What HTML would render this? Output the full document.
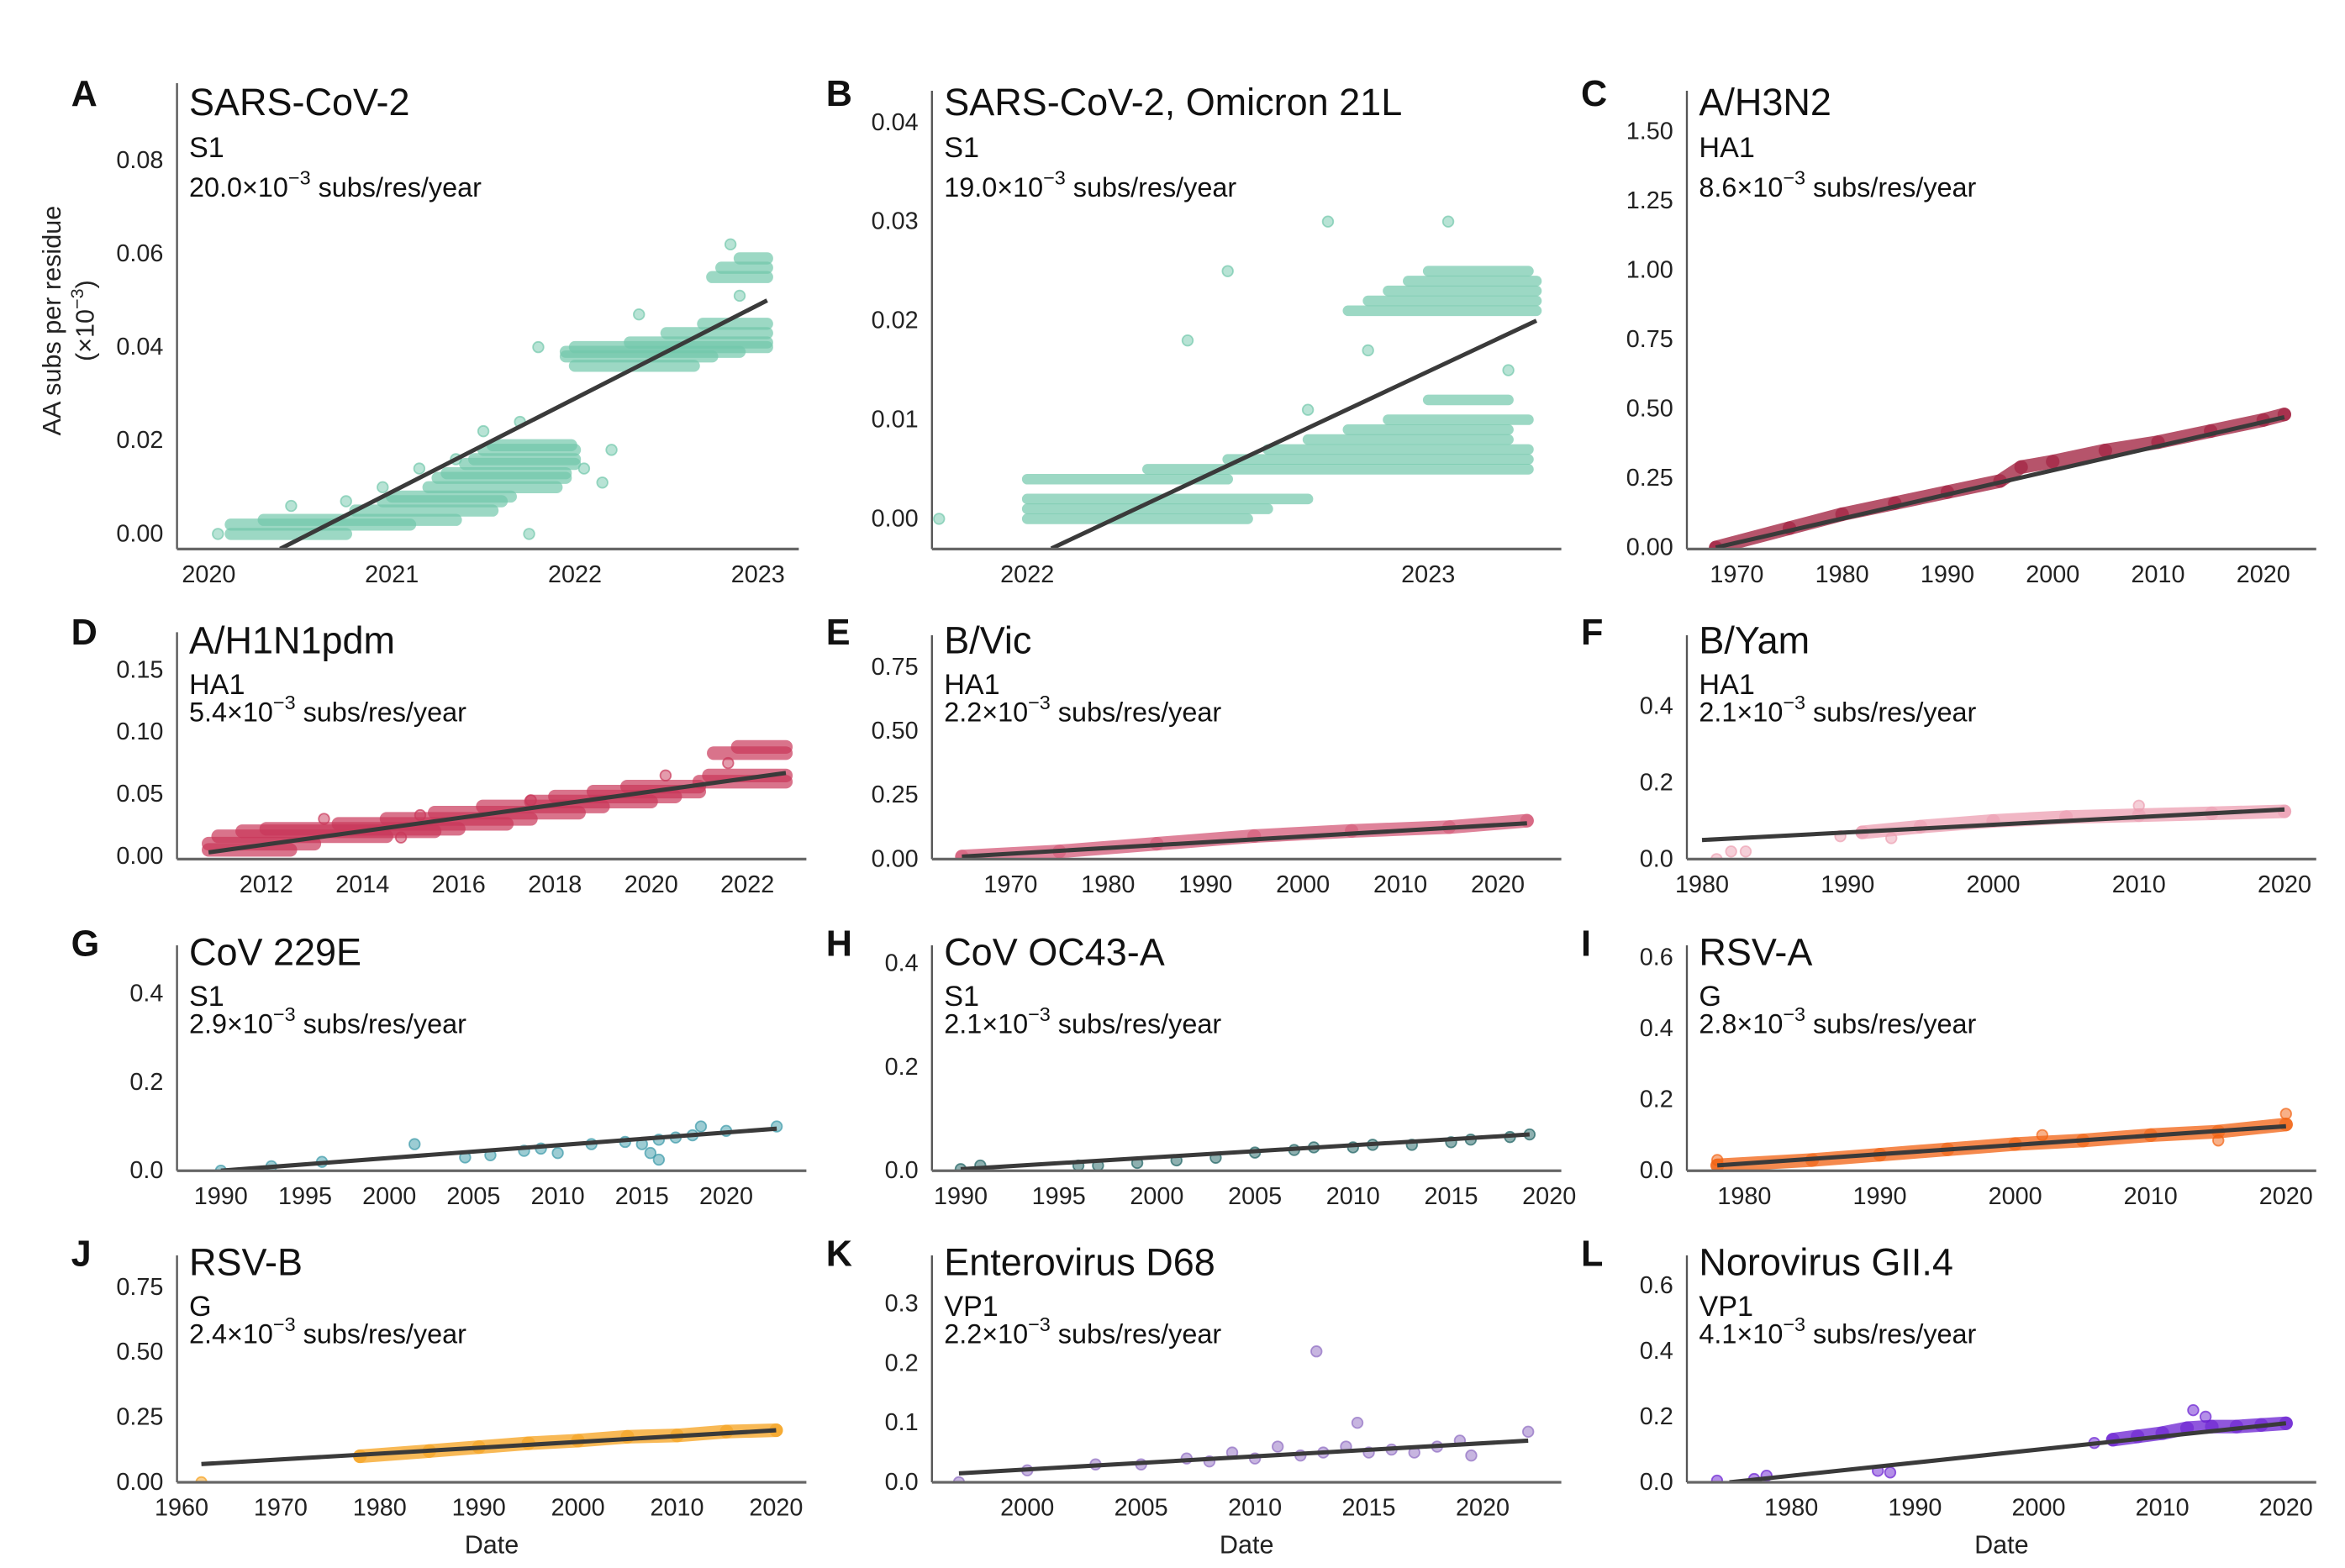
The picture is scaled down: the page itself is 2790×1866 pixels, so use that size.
<!DOCTYPE html>
<html><head><meta charset="utf-8"><title>Substitution rates</title>
<style>
html,body{margin:0;padding:0;background:#fff;}
svg{display:block;font-family:"Liberation Sans",Arial,sans-serif;}
</style></head>
<body>
<svg id="fig" width="2790" height="1866" viewBox="0 0 1550 1036.67" xmlns="http://www.w3.org/2000/svg">
<text transform="translate(40,212) rotate(-90)" text-anchor="middle" font-size="17" fill="#222">AA subs per residue</text>
<text transform="translate(62,212) rotate(-90)" text-anchor="middle" font-size="17" fill="#222">(×10<tspan dy="-7" font-size="12">−3</tspan><tspan dy="7">)</tspan></text>
</svg>
<script>
// ---- data: strips [value, startYear, endYear], points [year, value], fits [x0,y0,x1,y1]
const aStrips=[[0.000,2020.12,2020.75],[0.002,2020.12,2021.1],[0.003,2020.3,2021.35],[0.005,2020.8,2021.55],[0.007,2020.95,2021.6],[0.008,2021.0,2021.65],[0.010,2021.2,2021.9],[0.012,2021.25,2021.95],[0.013,2021.3,2021.95],[0.015,2021.4,2022.0],[0.016,2021.45,2022.0],[0.018,2021.5,2022.0],[0.019,2021.55,2021.98],[0.036,2022.0,2022.65],[0.038,2021.95,2022.75],[0.039,2021.95,2022.9],[0.040,2022.0,2023.05],[0.041,2022.3,2023.05],[0.043,2022.5,2023.05],[0.045,2022.7,2023.05],[0.055,2022.75,2023.05],[0.057,2022.8,2023.05],[0.059,2022.9,2023.05]];
const aPts=[[2020.05,0.0],[2020.45,0.006],[2020.75,0.007],[2020.95,0.01],[2021.15,0.014],[2021.35,0.016],[2021.5,0.022],[2021.7,0.024],[2022.05,0.014],[2022.15,0.011],[2022.2,0.018],[2021.8,0.04],[2022.35,0.047],[2022.85,0.062],[2022.9,0.051],[2021.75,0.0]];
const aFit=[2020.39,-0.0032,2023.05,0.050];
const bStrips=[[0.000,2022.0,2022.55],[0.001,2022.0,2022.6],[0.002,2022.0,2022.7],[0.004,2022.0,2022.5],[0.005,2022.3,2023.25],[0.006,2022.5,2023.25],[0.007,2022.6,2023.25],[0.008,2022.7,2023.2],[0.009,2022.8,2023.2],[0.010,2022.9,2023.25],[0.012,2023.0,2023.2],[0.021,2022.8,2023.27],[0.022,2022.85,2023.27],[0.023,2022.9,2023.27],[0.024,2022.95,2023.27],[0.025,2023.0,2023.25]];
const bPts=[[2021.78,0.0],[2022.5,0.025],[2022.75,0.03],[2022.85,0.017],[2023.05,0.03],[2022.4,0.018],[2023.2,0.015],[2022.7,0.011]];
const bFit=[2022.06,-0.003,2023.27,0.020];
const cTrail=[[1968,0.0],[1975,0.07],[1980,0.12],[1985,0.16],[1990,0.2],[1995,0.24],[1997,0.29],[2000,0.31],[2005,0.35],[2010,0.38],[2015,0.42],[2020,0.46],[2022,0.48]];
const cFit=[1968,0.0,2022,0.47];
const dStrips=[[0.005,2010.8,2012.5],[0.010,2010.8,2013.0],[0.016,2011.0,2014.5],[0.020,2011.5,2015.5],[0.022,2012.0,2016.0],[0.026,2013.5,2017.0],[0.030,2014.5,2017.5],[0.035,2015.5,2018.5],[0.040,2016.5,2019.0],[0.044,2017.5,2020.0],[0.048,2018.0,2020.5],[0.052,2018.8,2021.0],[0.056,2019.5,2021.0],[0.060,2021.0,2022.8],[0.065,2021.2,2022.8],[0.083,2021.3,2022.8],[0.088,2021.8,2022.8]];
const dPts=[[2015.2,0.033],[2013.2,0.03],[2017.5,0.045],[2020.3,0.065],[2021.6,0.075],[2014.8,0.015]];
const dFit=[2010.8,0.003,2022.8,0.067];
const eTrail=[[1965,0.01],[1975,0.03],[1985,0.06],[1995,0.09],[2005,0.11],[2015,0.125],[2023,0.15]];
const eFit=[1965,0.01,2023,0.14];
const fTrail=[[1991,0.07],[1995,0.085],[2000,0.1],[2005,0.11],[2010,0.115],[2015,0.12],[2020,0.125]];
const fPts=[[1981,0.0],[1982,0.02],[1983,0.02],[1989.5,0.06],[1993,0.055],[2010,0.14]];
const fFit=[1980,0.05,2020,0.13];
const gPts=[[1990,0.0],[1993,0.01],[1996,0.02],[2001.5,0.06],[2004.5,0.03],[2006,0.035],[2008,0.045],[2009,0.05],[2010,0.04],[2012,0.06],[2014,0.065],[2015,0.06],[2016,0.07],[2017,0.075],[2018,0.08],[2015.5,0.04],[2016,0.025],[2020,0.09],[2023,0.1],[2018.5,0.1]];
const gFit=[1990,0.0,2023,0.095];
const hPts=[[1990,0.003],[1991,0.01],[1996,0.01],[1997,0.01],[1999,0.015],[2001,0.02],[2003,0.025],[2005,0.035],[2007,0.04],[2008,0.045],[2010,0.045],[2011,0.05],[2013,0.05],[2015,0.055],[2016,0.06],[2018,0.065],[2019,0.07]];
const hFit=[1990,0.003,2019,0.07];
const iTrail=[[1978,0.015],[1985,0.03],[1990,0.045],[1995,0.06],[2000,0.075],[2005,0.085],[2010,0.1],[2015,0.11],[2020,0.13]];
const iPts=[[2020,0.16],[2002,0.1],[1978,0.03],[2015,0.085]];
const iFit=[1978,0.015,2020,0.125];
const jTrail=[[1978,0.1],[1985,0.12],[1990,0.135],[1995,0.15],[2000,0.16],[2005,0.175],[2010,0.18],[2015,0.195],[2020,0.2]];
const jPts=[[1962,0.0]];
const jFit=[1962,0.07,2020,0.2];
const kPts=[[1997,0.0],[2000,0.02],[2003,0.03],[2005,0.03],[2007,0.04],[2008,0.035],[2009,0.05],[2010,0.04],[2011,0.06],[2012,0.045],[2012.7,0.22],[2013,0.05],[2014,0.06],[2014.5,0.1],[2015,0.05],[2016,0.055],[2017,0.05],[2018,0.06],[2019,0.07],[2022,0.085],[2019.5,0.045]];
const kFit=[1997,0.015,2022,0.07];
const lTrail=[[2006,0.13],[2008,0.14],[2010,0.15],[2012,0.165],[2014,0.17],[2016,0.17],[2018,0.175],[2020,0.18]];
const lPts=[[1974,0.005],[1977,0.01],[1978,0.02],[1987,0.035],[1988,0.03],[2004.5,0.12],[2012.5,0.22],[2013.5,0.2]];
const lFit=[1975,0.0,2020,0.18];
const yTicksA=["0.00","0.02","0.04","0.06","0.08"], xTicksA=[2020,2021,2022,2023];
const yTicksB=["0.00","0.01","0.02","0.03","0.04"], xTicksB=[2022,2023];
const yTicksC=["0.00","0.25","0.50","0.75","1.00","1.25","1.50"], xTicksC=[1970,1980,1990,2000,2010,2020];
const yTicksD=["0.00","0.05","0.10","0.15"], xTicksD=[2012,2014,2016,2018,2020,2022];
const yTicksE=["0.00","0.25","0.50","0.75"], xTicksE=[1970,1980,1990,2000,2010,2020];
const yTicksF=["0.0","0.2","0.4"], xTicksF=[1980,1990,2000,2010,2020];
const yTicksG=["0.0","0.2","0.4"], xTicksG=[1990,1995,2000,2005,2010,2015,2020];
const yTicksH=["0.0","0.2","0.4"], xTicksH=[1990,1995,2000,2005,2010,2015,2020];
const yTicksI=["0.0","0.2","0.4","0.6"], xTicksI=[1980,1990,2000,2010,2020];
const yTicksJ=["0.00","0.25","0.50","0.75"], xTicksJ=[1960,1970,1980,1990,2000,2010,2020];
const yTicksK=["0.0","0.1","0.2","0.3"], xTicksK=[2000,2005,2010,2015,2020];
const yTicksL=["0.0","0.2","0.4","0.6"], xTicksL=[1980,1990,2000,2010,2020];

const NS="http://www.w3.org/2000/svg";
const svg=document.getElementById('fig');
function mk(tag,attrs,parent){const e=document.createElementNS(NS,tag);for(const k in attrs)e.setAttribute(k,attrs[k]);(parent||svg).appendChild(e);return e;}

const panels=[
 {id:'a',L:'A',t:'SARS-CoV-2',s:'S1',r:'20.0',c:'#72c7ab',l:117,R:528,top:55,b:363,xc:[2020,138,2023,501],yc:[0,353,0.08,106],yt:yTicksA,xt:xTicksA,strips:aStrips,pts:aPts,fit:aFit,tb:76,row:0,sw:8},
 {id:'b',L:'B',t:'SARS-CoV-2, Omicron 21L',s:'S1',r:'19.0',c:'#72c7ab',l:616,R:1032,top:60,b:363,xc:[2022,679,2023,944],yc:[0,343,0.04,81],yt:yTicksB,xt:xTicksB,strips:bStrips,pts:bPts,fit:bFit,tb:76,row:0},
 {id:'c',L:'C',t:'A/H3N2',s:'HA1',r:'8.6',c:'#9e1b3a',l:1115,R:1531,top:60,b:363,xc:[1970,1148,2020,1496],yc:[0,362,1.5,87],yt:yTicksC,xt:xTicksC,trail:cTrail,fit:cFit,tb:76,row:0},
 {id:'d',L:'D',t:'A/H1N1pdm',s:'HA1',r:'5.4',c:'#c9385a',l:117,R:533,top:418,b:568,xc:[2012,176,2022,494],yc:[0,566,0.15,443],yt:yTicksD,xt:xTicksD,strips:dStrips,pts:dPts,fit:dFit,tb:432,row:1,sw:9},
 {id:'e',L:'E',t:'B/Vic',s:'HA1',r:'2.2',c:'#d45a78',l:616,R:1032,top:420,b:568,xc:[1970,668,2020,990],yc:[0,568,0.75,441],yt:yTicksE,xt:xTicksE,trail:eTrail,fit:eFit,tb:432,row:1},
 {id:'f',L:'F',t:'B/Yam',s:'HA1',r:'2.1',c:'#ec9fb2',l:1115,R:1531,top:420,b:568,xc:[1980,1125,2020,1510],yc:[0,568,0.4,467],yt:yTicksF,xt:xTicksF,trail:fTrail,pts:fPts,fit:fFit,tb:432,row:1},
 {id:'g',L:'G',t:'CoV 229E',s:'S1',r:'2.9',c:'#3a99a8',l:117,R:533,top:625,b:774,xc:[1990,146,2020,480],yc:[0,774,0.4,657],yt:yTicksG,xt:xTicksG,pts:gPts,fit:gFit,tb:638,row:2},
 {id:'h',L:'H',t:'CoV OC43-A',s:'S1',r:'2.1',c:'#1e6262',l:616,R:1032,top:625,b:774,xc:[1990,635,2020,1024],yc:[0,774,0.4,637],yt:yTicksH,xt:xTicksH,pts:hPts,fit:hFit,tb:638,row:2},
 {id:'i',L:'I',t:'RSV-A',s:'G',r:'2.8',c:'#f26212',l:1115,R:1531,top:625,b:774,xc:[1980,1153,2020,1511],yc:[0,774,0.6,633],yt:yTicksI,xt:xTicksI,trail:iTrail,pts:iPts,fit:iFit,tb:638,row:2},
 {id:'j',L:'J',t:'RSV-B',s:'G',r:'2.4',c:'#f5a11e',l:117,R:533,top:830,b:980,xc:[1960,120,2020,513],yc:[0,980,0.75,851],yt:yTicksJ,xt:xTicksJ,trail:jTrail,pts:jPts,fit:jFit,tb:843,row:3},
 {id:'k',L:'K',t:'Enterovirus D68',s:'VP1',r:'2.2',c:'#8f6cc2',l:616,R:1032,top:830,b:980,xc:[2000,679,2020,980],yc:[0,980,0.3,862],yt:yTicksK,xt:xTicksK,pts:kPts,fit:kFit,tb:843,row:3},
 {id:'l',L:'L',t:'Norovirus GII.4',s:'VP1',r:'4.1',c:'#6a1fd2',l:1115,R:1531,top:830,b:980,xc:[1980,1184,2020,1511],yc:[0,980,0.6,850],yt:yTicksL,xt:xTicksL,trail:lTrail,pts:lPts,fit:lFit,tb:843,row:3}
];

panels.forEach(p=>{
  const X=v=>p.xc[1]+(v-p.xc[0])*(p.xc[3]-p.xc[1])/(p.xc[2]-p.xc[0]);
  const Y=v=>p.yc[1]+(v-p.yc[0])*(p.yc[3]-p.yc[1])/(p.yc[2]-p.yc[0]);
  const g=mk('g',{});
  
  
  const sub=p.row===0?[p.tb+28,p.tb+54]:[p.tb+27,p.tb+45];
  let e=mk('text',{x:p.l-70,y:p.tb-6,'font-size':24,'font-weight':'bold',fill:'#111'},g);e.textContent=p.L;
  
  e=mk('text',{x:p.l+8,y:p.tb,'font-size':25,fill:'#111'},g);e.textContent=p.t;
  
  e=mk('text',{x:p.l+8,y:sub[0],'font-size':19,fill:'#111'},g);e.textContent=p.s;
  
  e=mk('text',{x:p.l+8,y:sub[1],'font-size':18,fill:'#111'},g);
  
  e.innerHTML=p.r+'×10<tspan dy="-8" font-size="13">−3</tspan><tspan dy="8"> subs/res/year</tspan>';
  p.yt.forEach(t=>{const y=Y(parseFloat(t));const tt=mk('text',{x:p.l-9,y:y+5,'text-anchor':'end','font-size':16,fill:'#222'},g);tt.textContent=t;
    });
  p.xt.forEach(t=>{const tt=mk('text',{x:X(t),y:p.b+22,'text-anchor':'middle','font-size':16,fill:'#222'},g);tt.textContent=t;
    });
  const clip='cl'+p.id;const cp=mk('clipPath',{id:clip},g);mk('rect',{x:p.l,y:p.top-20,width:p.R-p.l,height:p.b-p.top+20},cp);
  const mg=mk('g',{'clip-path':'url(#'+clip+')'},g);
  
  const sw=p.sw||7;
  (p.strips||[]).forEach(s=>{const ln=mk('line',{x1:X(s[1]),x2:X(s[2]),y1:Y(s[0]),y2:Y(s[0]),stroke:p.c,'stroke-width':sw,'stroke-linecap':'round','stroke-opacity':0.7},mg);
    });
  if(p.trail){const pl=mk('polyline',{points:p.trail.map(q=>X(q[0])+','+Y(q[1])).join(' '),fill:'none',stroke:p.c,'stroke-width':9,'stroke-linecap':'round','stroke-linejoin':'round','stroke-opacity':0.75},mg);
    
    p.trail.forEach(q=>{const c=mk('circle',{cx:X(q[0]),cy:Y(q[1]),r:4.5,fill:p.c,'fill-opacity':0.6},mg);});}
  (p.pts||[]).forEach(q=>{const c=mk('circle',{cx:X(q[0]),cy:Y(q[1]),r:3.5,fill:p.c,'fill-opacity':0.5,stroke:p.c,'stroke-opacity':0.7},mg);
    });
  const f=p.fit;
  const fl=mk('line',{x1:X(f[0]),y1:Y(f[1]),x2:X(f[2]),y2:Y(f[3]),stroke:'#3a3a3a','stroke-width':2.8},mg);
  
  const ya=mk('line',{x1:p.l,x2:p.l,y1:p.top,y2:p.b,stroke:'#555','stroke-width':1.3},g);
  
  const xa=mk('line',{x1:p.l,x2:p.R,y1:p.b,y2:p.b,stroke:'#666','stroke-width':1.8},g);
  
  if(p.row===3){const d=mk('text',{x:(p.l+p.R)/2,y:1027,'text-anchor':'middle','font-size':17,fill:'#222'},g);d.textContent='Date';
    }
});
</script>
</body></html>
